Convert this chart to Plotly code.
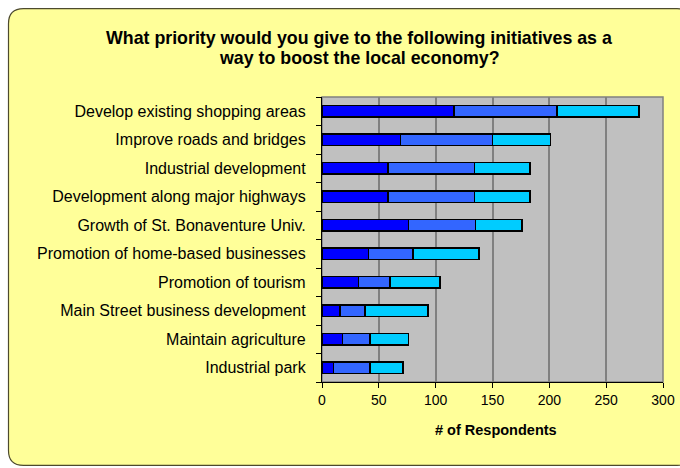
import plotly.graph_objects as go

categories = [
    "Develop existing shopping areas",
    "Improve roads and bridges",
    "Industrial development",
    "Development along major highways",
    "Growth of St. Bonaventure Univ.",
    "Promotion of home-based businesses",
    "Promotion of tourism",
    "Main Street business development",
    "Maintain agriculture",
    "Industrial park",
]
series_1 = [116, 69, 58, 58, 76, 41, 32, 16, 18, 10]
series_2 = [91, 81, 76, 76, 59, 39, 28, 22, 24, 32]
series_3 = [72, 51, 49, 49, 41, 58, 44, 55, 34, 29]
series_names = ["Priority 1", "Priority 2", "Priority 3"]
x_ticks = [0, 50, 100, 150, 200, 250, 300]
title_lines = [
    "What priority would you give to the following initiatives as a",
    "way to boost the local economy?",
]
x_title = "# of Respondents"

colors = ["#0000FF", "#3366FF", "#00CCFF"]
W, H = 680, 468
# plot area in screen pixels
L, R, T, B = 322, 663, 97, 382.5
FONT = "Liberation Sans, Arial, sans-serif"


def px(x):
    return (x - L) / (R - L)


def py(y):
    return (B - y) / (B - T)


fig = go.Figure()
for name, vals, col in zip(series_names, [series_1, series_2, series_3], colors):
    fig.add_trace(go.Bar(
        y=categories, x=vals, name=name, orientation="h",
        marker=dict(color=col, line=dict(color="#000000", width=1.6)),
    ))

# rounded yellow frame (screen pixels)
x0, x1, y0, y1, r = 8.5, 692, 8.5, 466, 15
path = (
    f"M {px(x0 + r)} {py(y0)} L {px(x1 - r)} {py(y0)} "
    f"Q {px(x1)} {py(y0)} {px(x1)} {py(y0 + r)} "
    f"L {px(x1)} {py(y1 - r)} Q {px(x1)} {py(y1)} {px(x1 - r)} {py(y1)} "
    f"L {px(x0 + r)} {py(y1)} Q {px(x0)} {py(y1)} {px(x0)} {py(y1 - r)} "
    f"L {px(x0)} {py(y0 + r)} Q {px(x0)} {py(y0)} {px(x0 + r)} {py(y0)} Z"
)
shapes = [
    dict(type="path", path=path, xref="paper", yref="paper", layer="below",
         fillcolor="#FFFF99", line=dict(color="#4d4a2e", width=1.2)),
    dict(type="rect", x0=0, x1=1, y0=0, y1=1, xref="paper", yref="paper",
         layer="below", fillcolor="#C0C0C0", line=dict(color="#808080", width=1.5)),
]

annotations = [
    dict(text=f"<b>{title_lines[0]}</b>", x=px(359), y=py(37.5), xref="paper", yref="paper",
         xanchor="center", yanchor="middle", showarrow=False,
         font=dict(size=17.8, family=FONT, color="#000000")),
    dict(text=f"<b>{title_lines[1]}</b>", x=px(359), y=py(57.5), xref="paper", yref="paper",
         xanchor="center", yanchor="middle", showarrow=False,
         font=dict(size=17.8, family=FONT, color="#000000")),
    dict(text=f"<b>{x_title}</b>", x=px(496), y=py(431), xref="paper", yref="paper",
         xanchor="center", yanchor="middle", showarrow=False,
         font=dict(size=14.5, family=FONT, color="#000000")),
]

fig.update_layout(
    width=W, height=H,
    margin=dict(l=L, r=W - R, t=T, b=H - B, pad=0, autoexpand=False),
    paper_bgcolor="#FFFFFF",
    plot_bgcolor="rgba(0,0,0,0)",
    barmode="stack",
    bargap=0.6,
    showlegend=False,
    shapes=shapes,
    annotations=annotations,
    font=dict(family=FONT, color="#000000"),
    xaxis=dict(
        range=[0, 300], tickvals=x_ticks, ticktext=[str(v) for v in x_ticks],
        showgrid=True, gridcolor="#808080", gridwidth=1.5,
        showline=True, linecolor="#000000", linewidth=1.2,
        ticks="outside", ticklen=5, tickcolor="#000000", tickwidth=1,
        tickfont=dict(size=14), zeroline=False, automargin=False,
    ),
    yaxis=dict(
        type="category", categoryorder="array", categoryarray=categories[::-1],
        tickson="boundaries", ticks="outside", ticklen=5, tickcolor="#000000",
        showline=True, linecolor="#000000", linewidth=1.2,
        showgrid=False, tickfont=dict(size=16), ticklabelstandoff=12,
        automargin=False,
    ),
)

fig.write_html(
    "out.html",
    config={"displayModeBar": False},
    post_script="document.body.style.margin='0';document.body.style.overflow='hidden';",
)
